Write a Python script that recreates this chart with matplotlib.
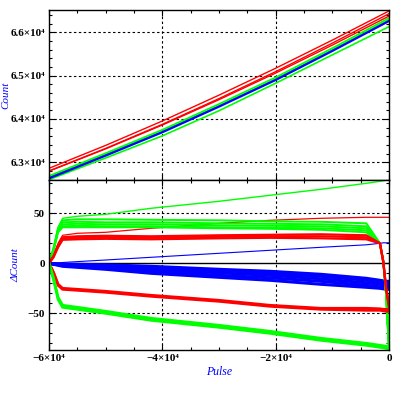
import matplotlib
matplotlib.use("Agg")
import matplotlib.pyplot as plt
from matplotlib.ticker import MultipleLocator

# === Top panel: Count vs Pulse ===
pulse_top = [-60000, -50000, -40000, -30000, -20000, -10000, 0]
count_red = [
    [62861, 63390, 63953, 64550, 65171, 65820, 66493],
    [62800, 63320, 63876, 64470, 65092, 65750, 66430],
    [62795, 63310, 63860, 64445, 65060, 65705, 66375],
]
count_green = [
    [62685, 63210, 63750, 64345, 64960, 65635, 66330],
    [62655, 63175, 63715, 64305, 64920, 65595, 66290],
    [62600, 63100, 63610, 64190, 64825, 65480, 66130],
]
count_blue = [62630, 63155, 63693, 64285, 64900, 65570, 66261]

# === Bottom panel: Delta Count vs Pulse ===
pulse_bot = [-60000, -59200, -58400, -57600, -55000, -50000, -42000, -30000,
             -21000, -12000, -4000, -1600, -1000, -500, 0]
dcount_green_hi = [
    [0, 15, 35, 43, 44, 44, 43.5, 43, 42, 41.5, 40, 20, 2, -30, -84],
    [0, 14, 34, 41, 41.5, 41, 41, 40, 39.5, 39, 37, 20, 2, -31, -85],
    [0, 14, 33, 39, 39.5, 39, 39, 38, 37.5, 37, 35, 20, 1, -31, -85],
    [0, 13, 32, 37, 37.5, 37, 37, 36, 35.5, 35, 33, 20, 1, -32, -86],
    [0, 13, 31, 36, 36, 36, 36, 35, 34.5, 33.5, 31, 20, 0, -32, -86],
]
dcount_green_top = [0, 16, 36, 45, 47, 49, 55, 62, 68, 74, 80, 82, 82.5, 83, 83]
dcount_green_lo = [
    [0, -15, -34, -42, -44, -48, -55, -62, -68, -75, -80, -82, -82.5, -83, -84],
    [0, -16, -36, -44, -46, -50, -57, -64, -70, -77, -82, -84, -84.5, -85, -86],
]
dcount_red_hi = [
    [0, 7, 18, 26, 27, 27.5, 27, 28, 28.5, 29, 28, 20, 2, -25, -42],
    [0, 7, 17, 25, 25.5, 26, 25.5, 26.5, 27, 27, 26, 20, 1, -26, -43],
    [0, 6, 16, 23.5, 24, 24.5, 24, 25, 25.5, 25, 24, 20, 1, -26, -44],
]
dcount_red_top = [0, 8, 20, 28, 30, 31, 35, 40, 43, 45, 46, 46, 46, 46, 46]
dcount_red_lo = [
    [0, -9, -21, -25, -26, -28, -32, -37, -42, -45, -45, -45.5, -46, -46, -46],
    [0, -10, -22, -26, -27, -29, -33, -38, -43, -46, -47, -47, -47.5, -48, -48],
]
dcount_blue_band = [
    [0, -0.3, -0.6, -0.8, -1, -1.5, -3, -6, -8, -11, -15, -17, -17.5, -18, -18],
    [0, -0.5, -1, -1.3, -1.8, -2.8, -4.5, -7.5, -10, -13, -17, -19, -19.5, -20, -20],
    [0, -0.6, -1.2, -1.8, -2.5, -3.8, -6, -9.5, -12, -15.5, -19.5, -21, -21.5, -22, -22],
    [0, -0.8, -1.5, -2.3, -3.2, -4.8, -8, -12, -14.5, -18, -22, -23.5, -24, -24, -24],
    [0, -1, -2, -3, -4, -6, -10, -14, -17, -21, -24, -25, -25.5, -26, -26],
]
dcount_blue_thin = [0, 0.3, 0.5, 0.8, 1.7, 3.3, 6, 10, 13, 16, 18.5, 20, 20.5, 20.5, 20.5]

x_ticks = [-60000, -40000, -20000, 0]
x_labels = ["\u22126\u00d710\u2074", "\u22124\u00d710\u2074", "\u22122\u00d710\u2074", "0"]
top_yticks = [63000, 64000, 65000, 66000]
top_ylabels = ["6.3\u00d710\u2074", "6.4\u00d710\u2074", "6.5\u00d710\u2074", "6.6\u00d710\u2074"]
bot_yticks = [-50, 0, 50]
bot_ylabels = ["\u221250", "0", "50"]

plt.rcParams['font.family'] = ['Liberation Serif', 'DejaVu Serif']
plt.rcParams['font.weight'] = 'bold'

fig = plt.figure(figsize=(3.99, 3.99), dpi=100)
W = H = 399.0
ax1 = fig.add_axes([49 / W, (H - 180) / H, 340 / W, 170 / H])
ax2 = fig.add_axes([49 / W, (H - 350) / H, 340 / W, 170 / H])

RED, GREEN, BLUE = '#ff0000', '#00ff00', '#0000ff'
grid_style = dict(color='black', linestyle=(0, (2.2, 2.2)), linewidth=0.8, zorder=0.5)

# --- top ---
for ys in count_green:
    ax1.plot(pulse_top, ys, color=GREEN, lw=1.2)
ax1.plot(pulse_top, count_blue, color=BLUE, lw=1.6)
for ys in count_red:
    ax1.plot(pulse_top, ys, color=RED, lw=1.0)
ax1.set_xlim(-60000, 0)
ax1.set_ylim(62591, 66515)
ax1.set_xticks(x_ticks)
ax1.set_xticklabels([])
ax1.set_yticks(top_yticks)
ax1.set_yticklabels(top_ylabels)
ax1.yaxis.set_minor_locator(MultipleLocator(200))
for v in top_yticks:
    ax1.axhline(v, **grid_style)
for v in x_ticks[1:-1]:
    ax1.axvline(v, **grid_style)
ax1.set_ylabel("Count", color=BLUE, style='italic', fontsize=8)
ax1.yaxis.set_label_coords(-0.115, 0.5)

# --- bottom ---
for v in [-50, 50]:
    ax2.axhline(v, **grid_style)
for v in x_ticks[1:-1]:
    ax2.axvline(v, **grid_style)
ax2.axhline(0, color='black', lw=1.0, zorder=0.6)

ax2.plot(pulse_bot, dcount_green_top, color=GREEN, lw=1.0)
ax2.plot(pulse_bot, dcount_red_top, color=RED, lw=0.9)
ax2.plot(pulse_bot, dcount_blue_thin, color=BLUE, lw=0.8)
for ys in dcount_blue_band:
    ax2.plot(pulse_bot, ys, color=BLUE, lw=2.2)
for ys in dcount_green_hi:
    ax2.plot(pulse_bot, ys, color=GREEN, lw=1.4)
for ys in dcount_red_hi:
    ax2.plot(pulse_bot, ys, color=RED, lw=1.6)
for ys in dcount_red_lo:
    ax2.plot(pulse_bot, ys, color=RED, lw=2.0)
for ys in dcount_green_lo:
    ax2.plot(pulse_bot, ys, color=GREEN, lw=2.0)

ax2.set_xlim(-60000, 0)
ax2.set_ylim(-86.7, 83.3)
ax2.set_xticks(x_ticks)
ax2.set_xticklabels(x_labels)
ax2.set_yticks(bot_yticks)
ax2.set_yticklabels(bot_ylabels)
ax2.yaxis.set_minor_locator(MultipleLocator(10))
ax2.set_ylabel("\u0394Count", color=BLUE, style='italic', fontsize=8)
ax2.yaxis.set_label_coords(-0.085, 0.5)
ax2.set_xlabel("Pulse", color=BLUE, style='italic', fontsize=8.5, labelpad=2)

for ax in (ax1, ax2):
    ax.xaxis.set_minor_locator(MultipleLocator(5000))
    ax.tick_params(which='both', direction='in', top=True, right=True,
                   labelsize=8, width=0.8, pad=3)
    ax.tick_params(which='major', length=4.5)
    ax.tick_params(which='minor', length=2.5)
    for sp in ax.spines.values():
        sp.set_linewidth(1.0)

fig.savefig("out.png", dpi=100)
